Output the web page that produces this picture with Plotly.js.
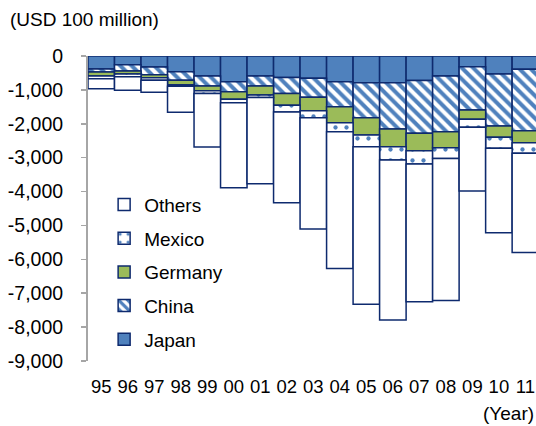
<!DOCTYPE html>
<html><head><meta charset="utf-8">
<script src="https://cdn.plot.ly/plotly-3.0.1.min.js"></script>
<style>html,body{margin:0;padding:0;background:#fff;} #chart{width:536px;height:426px;}</style>
</head><body><div id="chart"></div>
<script>
const years = ['95','96','97','98','99','00','01','02','03','04','05','06','07','08','09','10','11'];
const japan   = [-383,-256,-324,-466,-590,-758,-590,-634,-660,-758,-788,-788,-723,-590,-316,-531,-392];
const china   = [-89,-186,-228,-248,-295,-295,-295,-472,-558,-738,-1032,-1365,-1554,-1646,-1277,-1534,-1812];
const germany = [-118,-89,-88,-136,-142,-224,-265,-345,-395,-472,-510,-523,-520,-469,-274,-333,-354];
const mexico  = [-80,-80,-77,-44,-79,-101,-74,-201,-207,-265,-345,-392,-389,-319,-236,-325,-312];
const others  = [-295,-401,-354,-767,-1578,-2507,-2543,-2675,-3283,-4041,-4649,-4720,-4062,-4194,-1879,-2489,-2932];
const yTickVals = [0,-1000,-2000,-3000,-4000,-5000,-6000,-7000,-8000,-9000];
const yTickText = ['0','-1,000','-2,000','-3,000','-4,000','-5,000','-6,000','-7,000','-8,000','-9,000'];
const boundaries = years.map((_, i) => i - 0.5).concat([years.length - 0.5]);

const FONT = 'Liberation Sans, Arial, sans-serif';
const NAVY = '#0E2A6E';
const BLUE = '#4F81BD';
const GREEN = '#9BBB59';
const GRAY = '#A6A6A6';
const line = {color: NAVY, width: 1.5};

const specs = [
  {name: 'Japan', legendrank: 5, y: japan, marker: {color: BLUE, line}},
  {name: 'China', legendrank: 4, y: china, marker: {color: BLUE, line, pattern: {shape: '\\', fgcolor: BLUE, bgcolor: 'white', size: 8, solidity: 0.5}}},
  {name: 'Germany', legendrank: 3, y: germany, marker: {color: GREEN, line}},
  {name: 'Mexico', legendrank: 2, y: mexico, marker: {color: BLUE, line, pattern: {shape: '.', fgcolor: BLUE, bgcolor: 'white', size: 11, solidity: 0.12}}},
  {name: 'Others', legendrank: 1, y: others, marker: {color: 'white', line}}
];
const data = specs.map((s, i) => Object.assign({type: 'bar', x: years, legendgroup: 'g' + i, hoverinfo: 'skip'}, s));

const layout = {
  width: 536, height: 426,
  margin: {l: 88, r: 0, t: 56, b: 65},
  paper_bgcolor: 'white', plot_bgcolor: 'white',
  barmode: 'relative', bargap: 0,
  font: {family: FONT, size: 19, color: '#000'},
  showlegend: true,
  legend: {x: 0.036, xanchor: 'left', y: 0.575, yanchor: 'top', traceorder: 'grouped', tracegroupgap: 6,
           bgcolor: 'rgba(0,0,0,0)', font: {family: FONT, size: 19, color: '#000'}},
  xaxis: {type: 'category', range: [-0.5, 16.4], showline: false, ticks: '', showgrid: false, zeroline: false,
          tickfont: {family: FONT, size: 18.5, color: '#000'}, ticklabelstandoff: 12, fixedrange: true},
  xaxis2: {overlaying: 'x', side: 'top', anchor: 'y', range: [-0.5, 16.4], tickmode: 'array', tickvals: boundaries,
           showticklabels: false, showline: true, linecolor: GRAY, linewidth: 2, ticks: 'inside', ticklen: 4,
           tickcolor: GRAY, tickwidth: 1.5, showgrid: false, zeroline: false},
  yaxis: {range: [-9000, 0], tickmode: 'array', tickvals: yTickVals, ticktext: yTickText, ticks: 'outside', ticklen: 5,
          tickcolor: GRAY, tickwidth: 1.5, showline: true, linecolor: GRAY, linewidth: 2, showgrid: false, zeroline: false,
          tickfont: {family: FONT, size: 19.5, color: '#000'}, ticklabelstandoff: 14},
  annotations: [
    {text: '(USD 100 million)', xref: 'paper', yref: 'paper', x: -0.1786, xanchor: 'left', y: 1.121, yanchor: 'middle', showarrow: false, font: {family: FONT, size: 19, color: '#000'}},
    {text: '(Year)', xref: 'paper', yref: 'paper', x: 0.999, xanchor: 'right', y: -0.172, yanchor: 'middle', showarrow: false, font: {family: FONT, size: 19, color: '#000'}}
  ]
};
Plotly.newPlot('chart', data, layout, {staticPlot: true, displayModeBar: false});
</script></body></html>
